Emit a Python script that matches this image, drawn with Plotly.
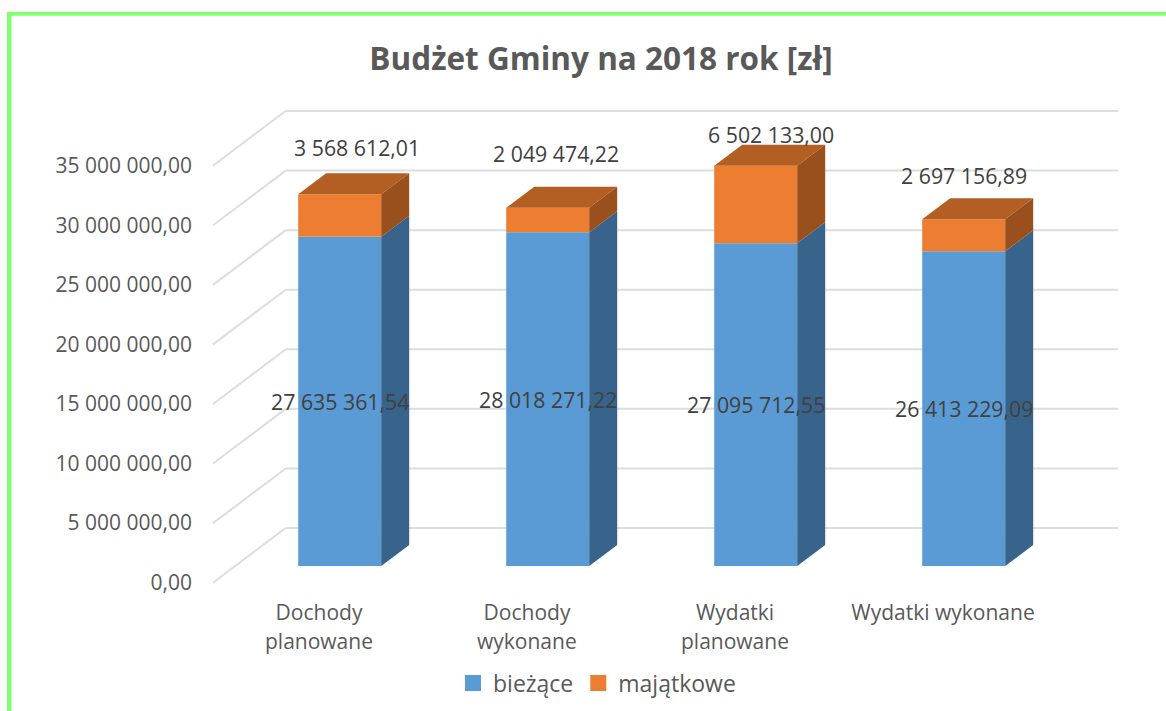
import plotly.graph_objects as go

# ---- data ----
CAT_LINE1 = ["Dochody", "Dochody", "Wydatki", "Wydatki wykonane"]
CAT_LINE2 = ["planowane", "wykonane", "planowane", ""]
BIEZACE = [27635361.54, 28018271.22, 27095712.55, 26413229.09]
MAJATKOWE = [3568612.01, 2049474.22, 6502133.00, 2697156.89]
BIEZACE_LABELS = ["27 635 361,54", "28 018 271,22", "27 095 712,55", "26 413 229,09"]
MAJATKOWE_LABELS = ["3 568 612,01", "2 049 474,22", "6 502 133,00", "2 697 156,89"]
TICK_VALUES = [0, 5e6, 10e6, 15e6, 20e6, 25e6, 30e6, 35e6]
TICK_LABELS = ["0,00", "5 000 000,00", "10 000 000,00", "15 000 000,00",
               "20 000 000,00", "25 000 000,00", "30 000 000,00", "35 000 000,00"]

# ---- layout constants (figure pixels) ----
W, H = 1166, 711
PX_PER_UNIT_Y = 11.914 / 1e6
PX_PER_CAT = 208.0
ZERO_Y = 582.7
ZERO_X = 319.0


def xu(px):  # pixel length -> x units
    return px / PX_PER_CAT


def yu(px):  # pixel length -> y units
    return px / PX_PER_UNIT_Y


X_RANGE = [xu(-ZERO_X), xu(W - ZERO_X)]
Y_RANGE = [yu(ZERO_Y - H), yu(ZERO_Y)]
BAR_OFFSET, BAR_W = xu(20.7), xu(83)
BAR_LIFT = yu(ZERO_Y - 566)
DEPTH_X, DEPTH_Y = xu(28), yu(21)
WALL_DX, WALL_DY = xu(72.7), yu(54.7)
GRID_LEFT, GRID_RIGHT = xu(213 - ZERO_X), xu(1118 - ZERO_X)

BLUE, BLUE_SIDE = "#5B9BD5", "#38638A"
ORANGE, ORANGE_SIDE, ORANGE_TOP = "#ED7D31", "#9A501C", "#B35E22"

positions = list(range(len(BIEZACE)))
bar_x = [i + BAR_OFFSET for i in positions]
base_blue = [BAR_LIFT for _ in BIEZACE]
base_orange = [BAR_LIFT + b for b in BIEZACE]
tops = [BAR_LIFT + b + m for b, m in zip(BIEZACE, MAJATKOWE)]

fig = go.Figure()
fig.add_trace(go.Bar(x=bar_x, y=BIEZACE, base=base_blue, width=BAR_W, showlegend=False,
                     marker=dict(color=BLUE, line_width=0), name="bieżące"))
fig.add_trace(go.Bar(x=bar_x, y=MAJATKOWE, base=base_orange, width=BAR_W, showlegend=False,
                     marker=dict(color=ORANGE, line_width=0), name="majątkowe"))


def side_polys(bases, heights):
    xs, ys = [], []
    for x, b, h in zip(bar_x, bases, heights):
        r = x + BAR_W / 2
        xs += [r, r + DEPTH_X, r + DEPTH_X, r, r, None]
        ys += [b, b + DEPTH_Y, b + h + DEPTH_Y, b + h, b, None]
    return xs, ys


def top_polys():
    xs, ys = [], []
    for x, t in zip(bar_x, tops):
        l, r = x - BAR_W / 2, x + BAR_W / 2
        xs += [l, r, r + DEPTH_X, l + DEPTH_X, l, None]
        ys += [t, t, t + DEPTH_Y, t + DEPTH_Y, t, None]
    return xs, ys


for (xs, ys), col in [(side_polys(base_blue, BIEZACE), BLUE_SIDE),
                      (side_polys(base_orange, MAJATKOWE), ORANGE_SIDE),
                      (top_polys(), ORANGE_TOP)]:
    fig.add_trace(go.Scatter(x=xs, y=ys, mode="lines", fill="toself", fillcolor=col,
                             line=dict(width=0, color=col), hoverinfo="skip", showlegend=False))

# legend-only swatches
for name, col in [("bieżące", BLUE), ("majątkowe", ORANGE)]:
    fig.add_trace(go.Scatter(x=[None], y=[None], mode="markers", name=name,
                             marker=dict(symbol="square", size=16, color=col)))

shapes = []
# wall gridlines with the diagonal on the side wall
for v in TICK_VALUES:
    for x0, y0, x1, y1 in [(GRID_LEFT, v, GRID_LEFT + WALL_DX, v + WALL_DY),
                           (GRID_LEFT + WALL_DX, v + WALL_DY, GRID_RIGHT, v + WALL_DY)]:
        shapes.append(dict(type="line", xref="x", yref="y", x0=x0, y0=y0, x1=x1, y1=y1,
                           layer="below", line=dict(color="#DDDDDD", width=2)))
# green page frame
FRAME = "#80FF70"
shapes.append(dict(type="rect", xref="paper", yref="paper", x0=7 / W, x1=11.5 / W, y0=0, y1=1 - 12 / H,
                   fillcolor=FRAME, line_width=0, layer="below"))
shapes.append(dict(type="rect", xref="paper", yref="paper", x0=7 / W, x1=1, y0=1 - 15.7 / H, y1=1 - 12 / H,
                   fillcolor=FRAME, line_width=0, layer="below"))

FONT = "Open Sans"
ann = []
# data labels
for x, b, m, lab in zip(bar_x, BIEZACE, base_blue, BIEZACE_LABELS):
    ann.append(dict(x=x, y=m + b / 2, text=lab, showarrow=False, xanchor="center", yanchor="middle",
                    font=dict(family=FONT, size=21.3, color="#404040")))
TOP_SHIFT_X = [17, 8, 15, 0]
TOP_SHIFT_Y = [47, 54, 31.5, 44]
for x, t, lab, sx, sy in zip(bar_x, tops, MAJATKOWE_LABELS, TOP_SHIFT_X, TOP_SHIFT_Y):
    ann.append(dict(x=x, y=t, text=lab, showarrow=False, xanchor="center", yanchor="middle",
                    xshift=sx, yshift=sy, font=dict(family=FONT, size=21.3, color="#404040")))
# second line of the category labels
for i, lab in zip(positions, CAT_LINE2):
    if lab:
        ann.append(dict(x=i, y=yu(ZERO_Y - 641), text=lab, showarrow=False, xanchor="center", yanchor="middle",
                        font=dict(family=FONT, size=21, color="#595959")))

fig.update_layout(
    width=W, height=H, margin=dict(l=0, r=0, t=0, b=0), autosize=False,
    paper_bgcolor="white", plot_bgcolor="rgba(0,0,0,0)", barmode="overlay",
    title=dict(text="<b>Budżet Gminy na 2018 rok [zł]</b>", x=601 / W, y=1 - 59 / H,
               xanchor="center", yanchor="middle",
               font=dict(family=FONT, size=31.5, color="#595959")),
    xaxis=dict(range=X_RANGE, domain=[0, 1], showgrid=False, zeroline=False, showline=False,
               tickmode="array", tickvals=positions, ticktext=CAT_LINE1, ticks="", ticklen=0,
               anchor="free", position=1 - 598 / H, side="bottom",
               tickfont=dict(family=FONT, size=21, color="#595959")),
    yaxis=dict(range=Y_RANGE, domain=[0, 1], showgrid=False, zeroline=False, showline=False,
               tickmode="array", tickvals=TICK_VALUES, ticktext=TICK_LABELS, ticks="", ticklen=0,
               anchor="free", position=192 / W, side="left",
               tickfont=dict(family=FONT, size=21, color="#595959")),
    legend=dict(orientation="h", x=597 / W, y=1 - 683 / H, xanchor="center", yanchor="middle",
                font=dict(family=FONT, size=23, color="#595959"), bgcolor="rgba(0,0,0,0)",
                itemsizing="trace", tracegroupgap=0),
    shapes=shapes, annotations=ann,
)

fig.write_html("out.html", config={"displayModeBar": False},
               post_script="document.body.style.margin='0';document.body.style.overflow='hidden';")
